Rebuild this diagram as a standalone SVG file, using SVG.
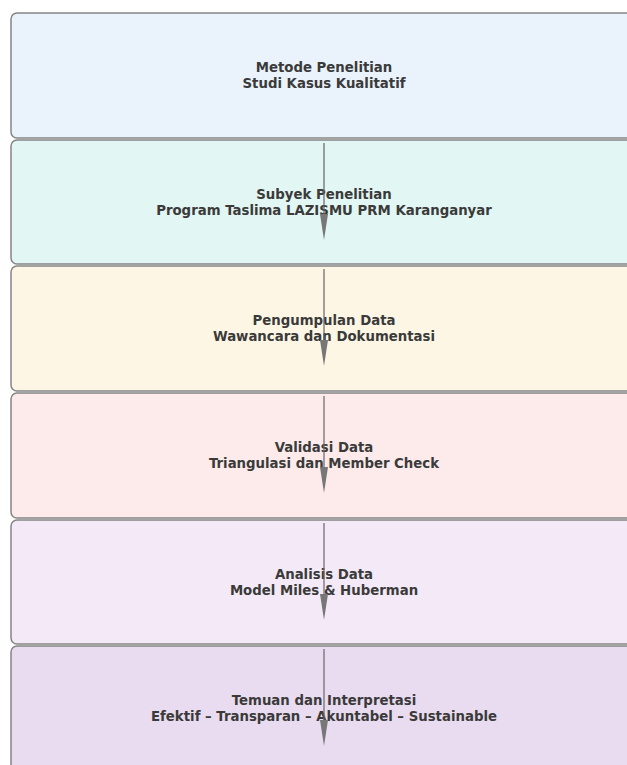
<svg xmlns="http://www.w3.org/2000/svg" width="627" height="765" viewBox="0 0 627 765">
<defs>
<style>
.box{stroke:#858585;stroke-width:1.5}
.t{font-family:"DejaVu Sans",sans-serif;font-weight:bold;font-size:13.3px;fill:#3a3a3a;text-anchor:middle;dominant-baseline:central}
.ln{stroke:#666;stroke-width:1.2}
.hd{fill:#777}
</style>
</defs>
<rect width="627" height="765" fill="#ffffff"/>
<g id="n1"><rect class="box" x="11" y="13" width="626" height="125" rx="6" fill="#EAF2FB"/><text class="t" x="324" y="67.5">Metode Penelitian</text><text class="t" x="324" y="83.5">Studi Kasus Kualitatif</text></g>
<g id="n2"><rect class="box" x="11" y="140" width="626" height="124" rx="6" fill="#E2F6F3"/><text class="t" x="324" y="194">Subyek Penelitian</text><text class="t" x="324" y="210">Program Taslima LAZISMU PRM Karanganyar</text></g>
<g id="n3"><rect class="box" x="11" y="266" width="626" height="125" rx="6" fill="#FEF6E4"/><text class="t" x="324" y="320.5">Pengumpulan Data</text><text class="t" x="324" y="336.5">Wawancara dan Dokumentasi</text></g>
<g id="n4"><rect class="box" x="11" y="393" width="626" height="125" rx="6" fill="#FDEBEB"/><text class="t" x="324" y="447.5">Validasi Data</text><text class="t" x="324" y="463.5">Triangulasi dan Member Check</text></g>
<g id="n5"><rect class="box" x="11" y="520" width="626" height="124" rx="6" fill="#F4EAF7"/><text class="t" x="324" y="574">Analisis Data</text><text class="t" x="324" y="590">Model Miles &amp; Huberman</text></g>
<g id="n6"><rect class="box" x="11" y="646" width="626" height="125" rx="6" fill="#EADCF0"/><text class="t" x="324" y="700">Temuan dan Interpretasi</text><text class="t" x="324" y="716">Efektif – Transparan – Akuntabel – Sustainable</text></g>
<g id="connectors">
<line class="ln" x1="324" y1="143" x2="324" y2="218"/><polygon class="hd" points="320,214 328,214 324,240"/>
<line class="ln" x1="324" y1="269" x2="324" y2="344"/><polygon class="hd" points="320,340 328,340 324,366"/>
<line class="ln" x1="324" y1="396" x2="324" y2="471"/><polygon class="hd" points="320,467 328,467 324,493"/>
<line class="ln" x1="324" y1="523" x2="324" y2="598"/><polygon class="hd" points="320,594 328,594 324,620"/>
<line class="ln" x1="324" y1="649" x2="324" y2="724"/><polygon class="hd" points="320,720 328,720 324,746"/>
</g>
</svg>
